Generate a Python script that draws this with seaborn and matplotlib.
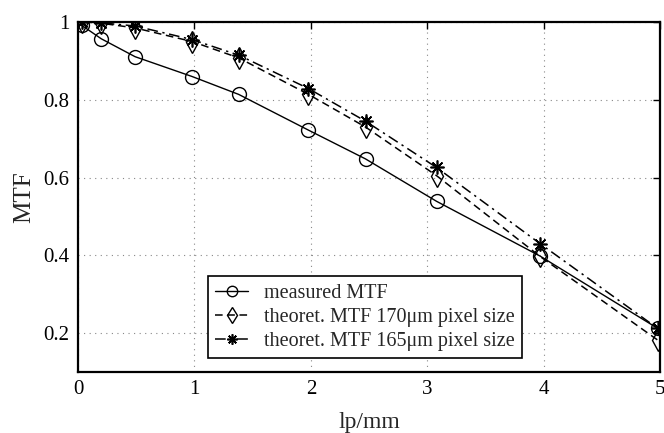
import numpy as np
import pandas as pd
import matplotlib
matplotlib.use("Agg")
import matplotlib.pyplot as plt
import seaborn as sns

# spatial frequency (lp/mm) and MTF values
freq = [0.03, 0.2, 0.49, 0.98, 1.38, 1.98, 2.47, 3.08, 3.97, 4.98]
mtf_measured = [0.992, 0.957, 0.911, 0.860, 0.814, 0.722, 0.648, 0.539, 0.398, 0.212]
mtf_170 = [1.0, 0.997, 0.985, 0.950, 0.908, 0.814, 0.730, 0.605, 0.397, 0.182]
mtf_165 = [1.0, 0.998, 0.990, 0.955, 0.915, 0.829, 0.745, 0.626, 0.430, 0.212]

labels = ["measured MTF",
          "theoret. MTF 170\u03bcm pixel size",
          "theoret. MTF 165\u03bcm pixel size"]

xticks = [0, 1, 2, 3, 4, 5]
yticks = [0.2, 0.4, 0.6, 0.8, 1.0]
ytick_labels = ["0.2", "0.4", "0.6", "0.8", "1"]

sns.set_theme(style="white")
plt.rcParams["font.family"] = ["Liberation Serif", "DejaVu Serif"]

fig = plt.figure(figsize=(6.64, 4.33), dpi=100)
ax = fig.add_axes([0.1175, 0.141, 0.8765, 0.808])

df = pd.DataFrame({"freq": freq, "m": mtf_measured, "t170": mtf_170, "t165": mtf_165})

sns.lineplot(data=df, x="freq", y="m", ax=ax, color="black", lw=1.0,
             marker="o", markersize=10, markerfacecolor="none",
             markeredgecolor="black", markeredgewidth=1.0, label=labels[0])
sns.lineplot(data=df, x="freq", y="t170", ax=ax, color="black", lw=1.1,
             linestyle=(0, (5, 3)), marker="d", markersize=11,
             markerfacecolor="none", markeredgecolor="black",
             markeredgewidth=1.0, label=labels[1])
sns.lineplot(data=df, x="freq", y="t165", ax=ax, color="black", lw=1.1,
             linestyle=(0, (7, 3, 1.5, 3)), marker=(8, 2, 0), markersize=10,
             markeredgecolor="black", markeredgewidth=1.2, label=labels[2])

ax.set_xlim(0, 5)
ax.set_ylim(0.1, 1.0)
ax.set_xticks(xticks)
ax.set_xticklabels([str(t) for t in xticks])
ax.set_yticks(yticks)
ax.set_yticklabels(ytick_labels)

ax.grid(True, color="#888888", linestyle=(0, (1, 4)), linewidth=0.8)
ax.tick_params(direction="in", length=5, width=1.0, top=True, right=True,
               labelsize=15, colors="black", pad=6)
for s in ax.spines.values():
    s.set_visible(True)
    s.set_color("black")
    s.set_linewidth(1.6)

ax.set_xlabel("lp/mm", fontsize=17, labelpad=9)
ax.set_ylabel("MTF", fontsize=18, labelpad=6)

leg = ax.legend(loc="lower left", bbox_to_anchor=(0.224, 0.04), fontsize=14.5,
                frameon=True, fancybox=False, edgecolor="black",
                handlelength=1.6, handletextpad=0.8, borderpad=0.35,
                labelspacing=0.25, borderaxespad=0, markerscale=0.75)
leg.get_frame().set_linewidth(1.2)
leg.get_frame().set_facecolor("white")
leg.get_frame().set_alpha(1.0)

fig.savefig("out.png", dpi=100, facecolor="white")
